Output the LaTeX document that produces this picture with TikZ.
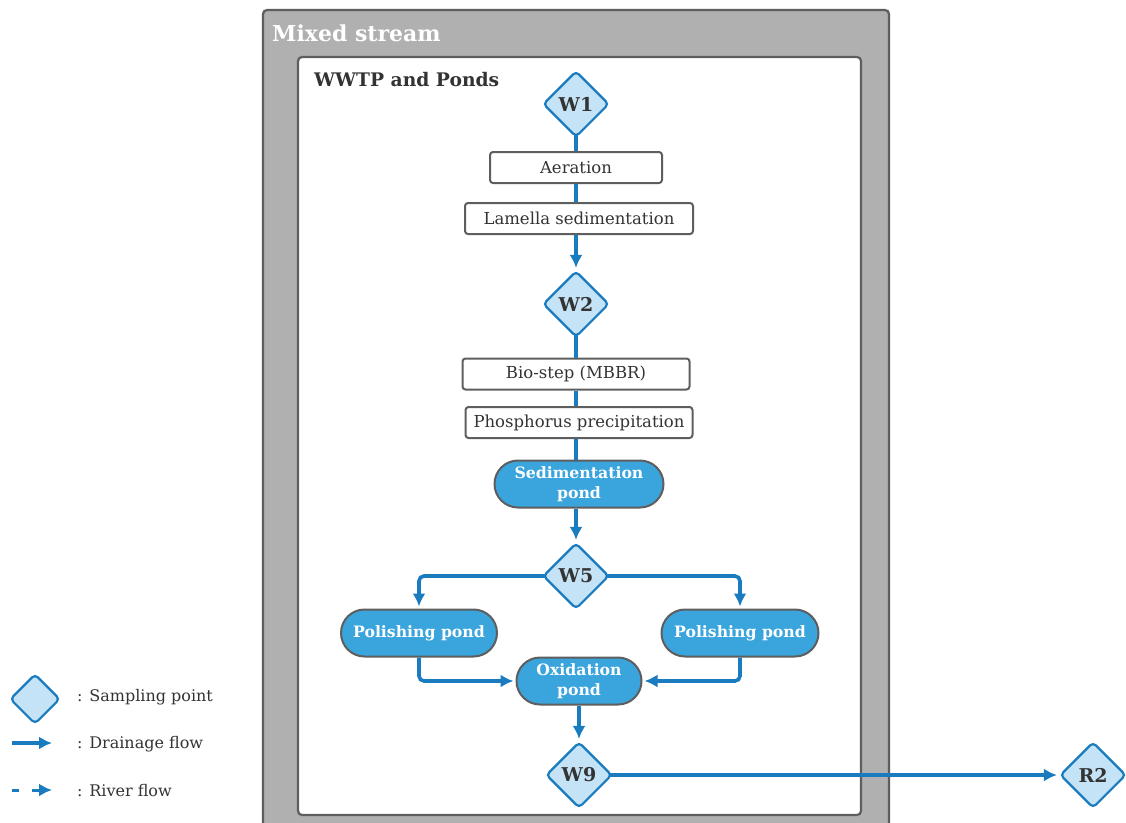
\documentclass[tikz,border=0pt]{standalone}
\usepackage{fontspec}
\setmainfont{DejaVu Serif}
\usetikzlibrary{arrows.meta,shapes.geometric,shapes.misc}
\definecolor{flowblue}{HTML}{1A7BBF}
\definecolor{pointfill}{HTML}{C5E3F6}
\definecolor{pondfill}{HTML}{3AA5DD}
\definecolor{framegray}{HTML}{B0B0B0}
\definecolor{edgegray}{HTML}{5E5E5E}
\definecolor{textgray}{HTML}{333333}

\begin{document}
\begin{tikzpicture}[x=1pt,y=-1pt,
  sample/.style={diamond,draw=flowblue,fill=pointfill,line width=2.2pt,rounded corners=4pt,
    minimum size=66pt,inner sep=0pt,text=textgray,font=\fontsize{19}{21}\selectfont\bfseries},
  stepbox/.style={draw=edgegray,fill=white,line width=2pt,rounded corners=3pt,
    minimum height=31pt,inner sep=0pt,text=textgray,font=\fontsize{16.5}{18}\selectfont},
  pond/.style={rounded rectangle,draw=edgegray,fill=pondfill,line width=2pt,
    minimum height=47pt,inner sep=0pt,align=center,text=white,font=\fontsize{15.7}{20}\selectfont\bfseries},
  legendtext/.style={anchor=west,inner sep=0pt,text=textgray,font=\fontsize{16}{18}\selectfont},
  flow/.style={draw=flowblue,line width=3.6pt},
  fromdiamond/.style={shorten <=-4pt},
  tip/.style={-{Latex[length=13pt,width=13pt]},shorten >=2pt}]

\clip (0,0) rectangle (1126,822);
\fill[white] (0,0) rectangle (1126,822);

% frames
\draw[edgegray,fill=framegray,line width=2.2pt,rounded corners=4pt] (263,10) rectangle (889,850);
\node (mixed) at (272,33)[anchor=west,inner sep=0pt,text=white,font=\fontsize{22}{24}\selectfont\bfseries]{Mixed stream};
\draw[edgegray,fill=white,line width=2.2pt,rounded corners=4pt] (298,57) rectangle (861,815);
\node (wwtp) at (314,80)[anchor=west,inner sep=0pt,text=textgray,font=\fontsize{18.7}{20}\selectfont\bfseries]{WWTP and Ponds};

% treatment line
\node (w1) at (576,104)[sample]{W1};
\node (aer) at (576,167.5)[stepbox,minimum width=172pt]{Aeration};
\node (lam) at (579,218.5)[stepbox,minimum width=228pt]{Lamella sedimentation};
\node (w2) at (576,304)[sample]{W2};
\node (bio) at (576,374)[stepbox,minimum width=227pt]{Bio-step (MBBR)};
\node (pho) at (579,422.5)[stepbox,minimum width=227pt]{Phosphorus precipitation};
\node (sed) at (579,484)[pond,minimum width=169pt]{Sedimentation\\pond};
\node (w5) at (576,576)[sample]{W5};
\node (pl) at (419,633)[pond,minimum width=156pt]{Polishing pond};
\node (pr) at (740,633)[pond,minimum width=157pt]{Polishing pond};
\node (ox) at (579,681)[pond,minimum width=125pt]{Oxidation\\pond};
\node (w9) at (579,775)[sample]{W9};
\node (r2) at (1093,775)[sample]{R2};

% connectors
\draw[flow,fromdiamond] (w1.south) -- (aer.north);
\draw[flow] (aer.south) -- (aer.south |- lam.north);
\draw[flow,tip] (aer.south |- lam.south) -- (w2.north);
\draw[flow,fromdiamond] (w2.south) -- (bio.north);
\draw[flow] (bio.south) -- (bio.south |- pho.north);
\draw[flow] (bio.south |- pho.south) -- (bio.south |- sed.north);
\draw[flow,tip] (bio.south |- sed.south) -- (w5.north);
\draw[flow,tip,fromdiamond,rounded corners=5pt] (w5.west) -| (pl.north);
\draw[flow,tip,fromdiamond,rounded corners=5pt] (w5.east) -| (pr.north);
\draw[flow,tip,rounded corners=5pt] (pl.south) |- (ox.west);
\draw[flow,tip,rounded corners=5pt] (pr.south) |- (ox.east);
\draw[flow,tip] (ox.south) -- (w9.north);
\draw[flow,tip,fromdiamond] (w9.east) -- (r2.west);

% legend
\node (lgpoint) at (35,699)[sample,minimum size=50pt]{};
\node (lgpointtxt) at (77,697)[legendtext]{: Sampling point};
\coordinate (lgdrainA) at (12,743);
\coordinate (lgdrainB) at (52,743);
\draw[flow,tip,shorten >=0pt] (lgdrainA) -- (lgdrainB);
\node (lgdraintxt) at (77,744)[legendtext]{: Drainage flow};
\coordinate (lgriverA) at (12,790);
\coordinate (lgriverB) at (52,790);
\draw[flow,tip,shorten >=0pt,dash pattern=on 7pt off 13pt,line width=3pt] (lgriverA) -- (lgriverB);
\node (lgrivertxt) at (77,791)[legendtext]{: River flow};

\end{tikzpicture}
\end{document}
